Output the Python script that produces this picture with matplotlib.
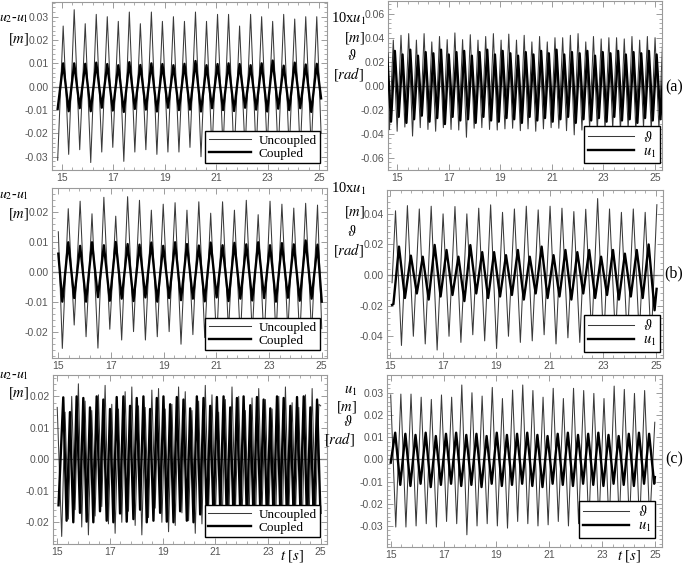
import numpy as np
import matplotlib.pyplot as plt
from matplotlib.ticker import MultipleLocator, AutoMinorLocator, FormatStrFormatter
from matplotlib.lines import Line2D

plt.rcParams['mathtext.fontset'] = 'stix'
plt.rcParams['font.family'] = 'Liberation Sans'
plt.rcParams['axes.unicode_minus'] = False

W, H = 685, 569
xticks = [15, 17, 19, 21, 23, 25]

# ---- (a) left: u2-u1, extrema (troughs first)
tl_unc_troughs = [-0.0315, -0.029, -0.027, -0.0325, -0.028, -0.026, -0.032, -0.028, -0.027, -0.029, -0.028, -0.028,
                  -0.026, -0.030, -0.028, -0.027, -0.031, -0.028, -0.029, -0.027, -0.030, -0.028, -0.029, -0.027]
tl_unc_peaks = [0.026, 0.033, 0.027, 0.031, 0.030, 0.028, 0.032, 0.027, 0.032, 0.028, 0.030, 0.028,
                0.032, 0.028, 0.031, 0.031, 0.026, 0.031, 0.030, 0.028, 0.031, 0.029, 0.030, 0.030]
tl_cpl_troughs = [-0.0095, -0.0105, -0.0092, -0.0105, -0.0090, -0.0102, -0.0108, -0.0095, -0.0098, -0.0106, -0.0090, -0.0100,
                  -0.0098, -0.0106, -0.0092, -0.0100, -0.0104, -0.0090, -0.0098, -0.0106, -0.0094, -0.0100, -0.0092, -0.0108]
tl_cpl_peaks = [0.0100, 0.0100, 0.0098, 0.0103, 0.0097, 0.0092, 0.0105, 0.0093, 0.0100, 0.0097, 0.0092, 0.0098,
                0.0110, 0.0092, 0.0097, 0.0100, 0.0097, 0.0092, 0.0100, 0.0112, 0.0090, 0.0103, 0.0095, 0.0098]
tl_t0, tl_half = 14.84, 0.2143
tl_unc_end = [(25.08, -0.020)]
tl_cpl_end = [(25.08, -0.005)]

# ---- (a) right: theta and 10*u1 (peaks first)
tr_thin_peaks = [0.036, 0.038, 0.042, 0.0434, 0.038, 0.0434, 0.0365, 0.041, 0.0384, 0.044, 0.0384, 0.0425, 0.038,
                 0.041, 0.0434, 0.038, 0.043, 0.038, 0.042, 0.0365, 0.041, 0.0365, 0.040, 0.040, 0.042, 0.0434,
                 0.0365, 0.041, 0.039, 0.040, 0.040, 0.039, 0.041, 0.038, 0.041, 0.040, 0.039]
tr_thin_troughs = [-0.0367, -0.038, -0.0345, -0.042, -0.035, -0.0365, -0.038, -0.035, -0.0365, -0.037, -0.043, -0.0355,
                   -0.035, -0.0365, -0.037, -0.036, -0.0355, -0.0375, -0.036, -0.038, -0.036, -0.035, -0.0355, -0.0375,
                   -0.041, -0.037, -0.0355, -0.038, -0.037, -0.036, -0.038, -0.036, -0.0375, -0.035, -0.037, -0.036]
tr_thick_peaks = [0.027, 0.029, 0.026, 0.030, 0.025, 0.028, 0.027, 0.030, 0.026, 0.028, 0.029, 0.025, 0.028,
                  0.030, 0.026, 0.029, 0.027, 0.025, 0.028, 0.026, 0.029, 0.027, 0.030, 0.026, 0.028, 0.027,
                  0.029, 0.025, 0.028, 0.027, 0.029, 0.026, 0.028, 0.027, 0.029, 0.026, 0.028]
tr_thick_troughs = [-0.030, -0.026, -0.031, -0.028, -0.025, -0.030, -0.027, -0.032, -0.026, -0.029, -0.028, -0.031,
                    -0.026, -0.029, -0.030, -0.027, -0.028, -0.031, -0.026, -0.029, -0.027, -0.030, -0.028, -0.026,
                    -0.031, -0.028, -0.029, -0.027, -0.030, -0.026, -0.029, -0.028, -0.031, -0.027, -0.029, -0.028]
tr_thin_t0, tr_thick_t0, tr_half = 14.547, 14.607, 0.14934

# ---- (b) left (troughs first)
ml_unc_troughs = [-0.0256, -0.0178, -0.0217, -0.0255, -0.0192, -0.0228, -0.0200, -0.0228, -0.0217, -0.0200, -0.0242,
                  -0.0210, -0.0220, -0.0240, -0.0200, -0.0230, -0.0210, -0.0240, -0.0220, -0.0200, -0.0230, -0.0210]
ml_unc_peaks = [0.0210, 0.0235, 0.0193, 0.0248, 0.0185, 0.0250, 0.0238, 0.0205, 0.0225, 0.0230, 0.0205,
                0.0233, 0.0195, 0.0233, 0.0205, 0.0238, 0.0190, 0.0235, 0.0225, 0.0212, 0.0228, 0.0222]
ml_cpl_troughs = [-0.0100, -0.0088, -0.0100, -0.0085, -0.0097, -0.0090, -0.0098, -0.0086, -0.0100, -0.0088, -0.0095,
                  -0.0090, -0.0099, -0.0086, -0.0098, -0.0090, -0.0096, -0.0088, -0.0100, -0.0087, -0.0097, -0.0090]
ml_cpl_peaks = [0.0098, 0.0086, 0.0098, 0.0088, 0.0099, 0.0092, 0.0090, 0.0097, 0.0086, 0.0098, 0.0092,
                0.0087, 0.0097, 0.0088, 0.0096, 0.0091, 0.0098, 0.0088, 0.0095, 0.0091, 0.0104, 0.0090]
ml_t0, ml_half = 15.152, 0.2253
ml_unc_start, ml_unc_end = [(15.0, 0.0133)], [(25.0, -0.019)]
ml_cpl_start, ml_cpl_end = [(15.0, 0.006)], [(25.0, -0.010)]

# ---- (b) right (peaks first)
mr_thin_peaks = [0.042, 0.0454, 0.0432, 0.045, 0.040, 0.0448, 0.040, 0.0437, 0.0459, 0.041, 0.0432,
                 0.045, 0.0426, 0.045, 0.0437, 0.0415, 0.043, 0.050, 0.0432, 0.041, 0.0432, 0.041]
mr_thin_troughs = [-0.046, -0.040, -0.045, -0.049, -0.040, -0.044, -0.039, -0.043, -0.048, -0.040, -0.044,
                   -0.043, -0.039, -0.045, -0.041, -0.044, -0.040, -0.046, -0.042, -0.044, -0.040, -0.045]
mr_thick_peaks = [0.0186, 0.0127, 0.012, 0.0197, 0.0164, 0.012, 0.0196, 0.015, 0.015, 0.013, 0.0164,
                  0.012, 0.0186, 0.013, 0.0164, 0.015, 0.0164, 0.012, 0.0164, 0.014, 0.0164, 0.020]
mr_thick_troughs = [-0.015, -0.012, -0.016, -0.014, -0.013, -0.017, -0.012, -0.015, -0.014, -0.013, -0.016,
                    -0.012, -0.015, -0.014, -0.016, -0.012, -0.015, -0.013, -0.016, -0.014, -0.015, -0.023]
mr_thin_t0, mr_thick_t0, mr_half = 15.21, 15.34, 0.22335
mr_thin_start, mr_thin_end = [(15.08, -0.005)], [(25.03, 0.046)]
mr_thick_start, mr_thick_end = [(15.08, -0.0195), (15.13, -0.019)], [(25.02, -0.009)]

# ---- (c) left
bl_cpl_peaks = [0.0197, 0.0150, 0.0200, 0.0195, 0.0165, 0.0200, 0.0190, 0.0160, 0.0198, 0.0200, 0.0170, 0.0195, 0.0200,
                0.0160, 0.0195, 0.0200, 0.0175, 0.0198, 0.0190, 0.0162, 0.0200, 0.0195, 0.0170, 0.0198, 0.0200, 0.0165,
                0.0195, 0.0200, 0.0172, 0.0198, 0.0190, 0.0162, 0.0200, 0.0195, 0.0170, 0.0198, 0.0200, 0.0165, 0.0190]
bl_cpl_troughs = [-0.0195, -0.0200, -0.0170, -0.0198, -0.0200, -0.0165, -0.0195, -0.0200, -0.0172, -0.0198, -0.0190,
                  -0.0160, -0.0200, -0.0195, -0.0170, -0.0198, -0.0200, -0.0165, -0.0195, -0.0200, -0.0175, -0.0198,
                  -0.0190, -0.0162, -0.0200, -0.0195, -0.0170, -0.0198, -0.0200, -0.0165, -0.0195, -0.0200, -0.0172,
                  -0.0198, -0.0190, -0.0160, -0.0200, -0.0195, -0.0170]
bl_unc_troughs = [-0.0245, -0.0190, -0.0160, -0.0215, -0.0240, -0.0180, -0.0150, -0.0205, -0.0235, -0.0200, -0.0165,
                  -0.0210, -0.0240, -0.0185, -0.0155, -0.0200, -0.0230, -0.0210, -0.0170, -0.0195, -0.0235, -0.0205,
                  -0.0160, -0.0190, -0.0225, -0.0215, -0.0175, -0.0185, -0.0230, -0.0220, -0.0165, -0.0180, -0.0225,
                  -0.0230, -0.0180, -0.0175, -0.0220, -0.0235, -0.0190]
bl_unc_peaks = [0.0150, 0.0200, 0.0240, 0.0185, 0.0155, 0.0205, 0.0235, 0.0175, 0.0160, 0.0215, 0.0230, 0.0170, 0.0165,
                0.0220, 0.0225, 0.0160, 0.0175, 0.0230, 0.0215, 0.0155, 0.0185, 0.0235, 0.0205, 0.0150, 0.0190, 0.0230,
                0.0200, 0.0155, 0.0195, 0.0225, 0.0190, 0.0160, 0.0200, 0.0230, 0.0180, 0.0165, 0.0205, 0.0225, 0.0175]
bl_cpl_t0, bl_unc_t0, bl_half = 15.23, 15.17, 0.12675
bl_cpl_start = [(15.05, -0.0146)]
bl_unc_start, bl_unc_end = [(15.0, 0.0165)], [(25.0, 0.017)]

# ---- (c) right
br_thin_peaks = [0.029, 0.0294, 0.0294, 0.028, 0.027, 0.029, 0.028, 0.0335, 0.030, 0.0285, 0.0324, 0.0274, 0.0312, 0.0335,
                 0.031, 0.028, 0.032, 0.0274, 0.032, 0.031, 0.0297, 0.0274, 0.033, 0.0315, 0.0297, 0.031, 0.0167]
br_thin_troughs = [-0.0305, -0.0305, -0.030, -0.029, -0.0305, -0.028, -0.029, -0.034, -0.030, -0.029, -0.030, -0.031, -0.028,
                   -0.029, -0.030, -0.0295, -0.028, -0.030, -0.029, -0.030, -0.029, -0.031, -0.029, -0.030, -0.031, -0.029]
br_thick_peaks = [0.012, 0.0115, 0.011, 0.012, 0.0105, 0.0115, 0.012, 0.011, 0.0115, 0.0105, 0.012, 0.011, 0.0115,
                  0.012, 0.011, 0.0105, 0.0115, 0.012, 0.011, 0.0115, 0.012, 0.011, 0.0105, 0.0115, 0.012, 0.0115]
br_thick_troughs = [-0.0115, -0.012, -0.011, -0.0125, -0.0115, -0.011, -0.012, -0.0115, -0.0125, -0.011, -0.012, -0.0115, -0.011,
                    -0.012, -0.0125, -0.011, -0.0115, -0.012, -0.011, -0.0115, -0.012, -0.011, -0.0115, -0.012, -0.011, -0.011]
br_thin_t0, br_thick_t0, br_half = 15.0, 15.17, 0.19225
br_thick_start, br_thick_end = [(15.0, -0.0015)], [(25.0, -0.008)]


def series(t_first, half, first, second, start=(), end=()):
    vals = []
    for i in range(max(len(first), len(second))):
        if i < len(first):
            vals.append(first[i])
        if i < len(second):
            vals.append(second[i])
    t = list(t_first + half * np.arange(len(vals)))
    ts = [p[0] for p in start] + t + [p[0] for p in end]
    vs = [p[1] for p in start] + vals + [p[1] for p in end]
    return ts, vs


fig = plt.figure(figsize=(W / 100, H / 100), dpi=100)


def add_ax(x0, x1, y0, y1):
    return fig.add_axes([x0 / W, 1 - y1 / H, (x1 - x0) / W, (y1 - y0) / H])


def ftext(x, y, s, size=10.5, ha='center'):
    fig.text(x / W, 1 - y / H, s, ha=ha, va='center', fontsize=size, family='Liberation Serif')


def style(ax, xlim, ylim, ystep):
    ax.set_xlim(*xlim)
    ax.set_ylim(*ylim)
    ax.set_xticks(xticks)
    ax.xaxis.set_minor_locator(AutoMinorLocator(5))
    ax.yaxis.set_major_locator(MultipleLocator(ystep))
    ax.yaxis.set_minor_locator(AutoMinorLocator(5))
    ax.yaxis.set_major_formatter(FormatStrFormatter('%.2f'))
    ax.tick_params(which='both', direction='in', top=True, right=True, color='#8c8c8c',
                   labelcolor='#555555', labelsize=7.5, pad=2.5)
    ax.tick_params(which='major', length=4, width=0.6)
    ax.tick_params(which='minor', length=2, width=0.5)
    for s in ax.spines.values():
        s.set_color('#9a9a9a')
        s.set_linewidth(0.8)
    ax.axhline(0, color='#707070', lw=0.9, zorder=1)


THIN = dict(color='#3a3a3a', lw=0.75, zorder=2)
THICK = dict(color='black', lw=1.7, zorder=3)


def legend(ax, labels, anchor, size):
    h = [Line2D([], [], **THIN), Line2D([], [], **THICK)]
    leg = ax.legend(h, labels, loc='lower right', bbox_to_anchor=anchor, frameon=True, fancybox=False,
                    framealpha=1, edgecolor='black', borderaxespad=0, handlelength=3.2, borderpad=0.25,
                    labelspacing=0.05, handletextpad=0.6, prop={'family': 'Liberation Serif', 'size': size})
    leg.get_frame().set_linewidth(1.0)
    leg.set_zorder(10)


lr_labels = ['Uncoupled', 'Coupled']
th_labels = [r'$\vartheta$', r'$u_1$']

# (a) left
ax = add_ax(52, 327, 2, 170)
style(ax, (14.62, 25.31), (-0.0357, 0.0363), 0.01)
ax.plot(*series(tl_t0, tl_half, tl_unc_troughs, tl_unc_peaks, end=tl_unc_end), **THIN)
ax.plot(*series(tl_t0, tl_half, tl_cpl_troughs, tl_cpl_peaks, end=tl_cpl_end), **THICK)
legend(ax, lr_labels, (0.975, 0.042), 9.5)

# (a) right
ax = add_ax(388, 662, 1, 170)
style(ax, (14.64, 25.27), (-0.0703, 0.0706), 0.02)
ax.plot(*series(tr_thin_t0, tr_half, tr_thin_peaks, tr_thin_troughs), **THIN)
ax.plot(*series(tr_thick_t0, tr_half, tr_thick_peaks, tr_thick_troughs), **THICK)
legend(ax, th_labels, (0.993, 0.04), 10.5)

# (b) left
ax = add_ax(52, 327, 188, 358)
style(ax, (14.76, 25.2), (-0.0288, 0.0279), 0.01)
ax.plot(*series(ml_t0, ml_half, ml_unc_troughs, ml_unc_peaks, ml_unc_start, ml_unc_end), **THIN)
ax.plot(*series(ml_t0, ml_half, ml_cpl_troughs, ml_cpl_peaks, ml_cpl_start, ml_cpl_end), **THICK)
legend(ax, lr_labels, (0.975, 0.047), 9.5)

# (b) right
ax = add_ax(387, 663, 190, 358)
style(ax, (14.89, 25.26), (-0.0542, 0.0556), 0.02)
ax.plot(*series(mr_thin_t0, mr_half, mr_thin_peaks, mr_thin_troughs, mr_thin_start, mr_thin_end), **THIN)
ax.plot(*series(mr_thick_t0, mr_half, mr_thick_peaks, mr_thick_troughs, mr_thick_start, mr_thick_end), **THICK)
legend(ax, th_labels, (0.989, 0.036), 10.5)

# (c) left
ax = add_ax(53, 327, 375, 544)
style(ax, (14.84, 25.24), (-0.0269, 0.0268), 0.01)
ax.plot(*series(bl_unc_t0, bl_half, bl_unc_troughs, bl_unc_peaks, bl_unc_start, bl_unc_end), **THIN)
ax.plot(*series(bl_cpl_t0, bl_half, bl_cpl_peaks, bl_cpl_troughs, bl_cpl_start), **THICK)
legend(ax, lr_labels, (0.974, 0.041), 9.5)

# (c) right
ax = add_ax(387, 662, 375, 547)
style(ax, (14.86, 25.27), (-0.0395, 0.038), 0.01)
ax.plot(*series(br_thin_t0, br_half, br_thin_peaks, br_thin_troughs), **THIN)
ax.plot(*series(br_thick_t0, br_half, br_thick_peaks, br_thick_troughs, br_thick_start, br_thick_end), **THICK)
legend(ax, th_labels, (0.975, 0.052), 10.5)

# axis titles
for y in (18, 196, 376):
    ftext(29, y, r'$u_2$-$u_1$', size=10, ha='right')
for y in (39, 214, 393):
    ftext(29, y, r'[$m$]', ha='right')

ftext(366, 19, r'10x$u_1$', ha='right')
ftext(365, 38, r'[$m$]', ha='right')
ftext(352, 56, r'$\vartheta$')
ftext(364, 74, r'[$rad$]', ha='right')

ftext(366, 189, r'10x$u_1$', ha='right')
ftext(365, 212, r'[$m$]', ha='right')
ftext(352, 231, r'$\vartheta$')
ftext(364, 250, r'[$rad$]', ha='right')

ftext(357, 391, r'$u_1$', ha='right')
ftext(357, 407, r'[$m$]', ha='right')
ftext(348, 421, r'$\vartheta$')
ftext(355, 439, r'[$rad$]', ha='right')

ftext(674, 87, '(a)', size=11.5)
ftext(674, 273, '(b)', size=11.5)
ftext(674, 459, '(c)', size=11.5)

ftext(304, 556, r'$t$ [$s$]', ha='right')
ftext(641, 556, r'$t$ [$s$]', ha='right')

fig.savefig('out.png', dpi=100)
